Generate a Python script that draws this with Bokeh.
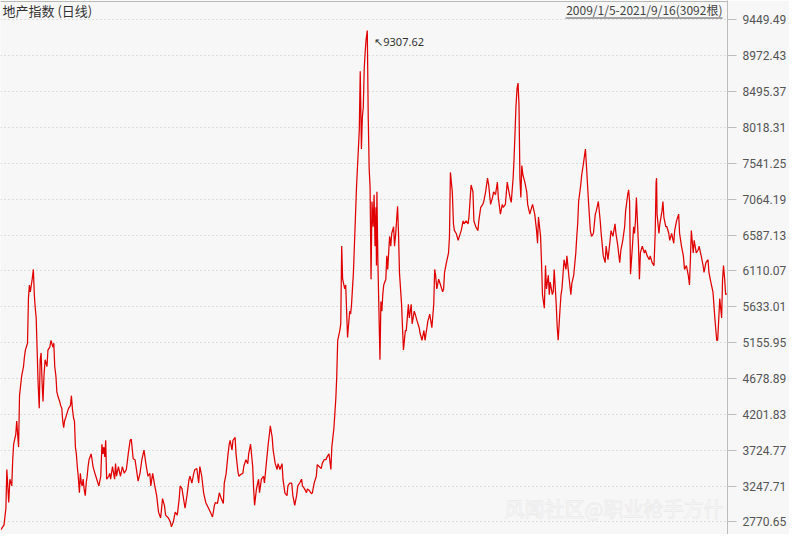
from bokeh.plotting import figure
from bokeh.models import Range1d, FixedTicker, Label, Span
from bokeh.embed import file_html
from bokeh.resources import INLINE

title_text = "地产指数 (日线)"
range_text = "2009/1/5-2021/9/16(3092根)"
peak_text = "↖9307.62"
watermark = "风闻社区@职业枪手方什"

peak_day = 1560
peak_value = 9307.62

tick_values = [2770.65, 3247.71, 3724.77, 4201.83, 4678.89, 5155.95, 5633.01,
               6110.07, 6587.13, 7064.19, 7541.25, 8018.31, 8495.37, 8972.43, 9449.49]
tick_labels = ["2770.65", "3247.71", "3724.77", "4201.83", "4678.89", "5155.95", "5633.01",
               "6110.07", "6587.13", "7064.19", "7541.25", "8018.31", "8495.37", "8972.43", "9449.49"]

day = [0, 13, 21, 25, 33, 38, 46, 50, 54, 63, 67, 75, 79, 88, 96, 100, 104, 113, 117, 121,
       125, 133, 138, 142, 146, 150, 154, 158, 163, 167, 171, 175, 179, 183, 188, 196, 200, 208,
       213, 221, 225, 229, 234, 238, 242, 250, 254, 259, 263, 267, 271, 279, 284, 288, 296, 300,
       304, 309, 313, 317, 321, 325, 329, 334, 338, 342, 346, 350, 354, 359, 363, 367, 371, 375,
       384, 388, 392, 400, 404, 413, 417, 425, 430, 434, 438, 442, 446, 450, 459, 463, 467, 475,
       484, 488, 492, 500, 509, 517, 525, 534, 542,
       550, 555, 563, 571, 584, 592, 600, 609, 617, 626, 634, 638, 646, 655, 663, 671, 680, 688,
       696, 701, 713, 721, 726, 734, 742, 751, 759, 763, 771, 780, 784, 792, 801, 805, 813, 821,
       826, 834, 842, 847, 855, 863, 872, 884, 892, 901, 909, 913, 922, 930, 938, 947, 951, 959,
       967, 972, 976, 984, 988, 997, 1001, 1009, 1013, 1022, 1030, 1034, 1043, 1051, 1055, 1063,
       1072, 1076, 1080, 1088, 1097, 1101, 1109, 1118, 1122, 1130, 1138, 1143, 1147, 1155, 1159,
       1168, 1176, 1180, 1188, 1197, 1201, 1209, 1218, 1222, 1230, 1238, 1243, 1251, 1259, 1264,
       1272, 1280, 1284, 1293, 1301, 1305, 1314, 1322, 1326, 1334, 1343, 1347, 1355, 1364, 1368,
       1376, 1384, 1389, 1397, 1405, 1409, 1418,
       1426, 1430, 1434, 1443, 1447, 1451, 1455, 1464, 1468, 1472, 1476, 1485, 1489, 1493, 1501,
       1510, 1514, 1522, 1526, 1530, 1535, 1539, 1543, 1547, 1551, 1555, 1560, 1564, 1568, 1572,
       1576, 1580, 1585, 1589, 1593, 1597, 1599, 1601, 1605, 1614, 1618, 1622, 1626, 1630, 1639,
       1643, 1647, 1655, 1660, 1664, 1672, 1676, 1681, 1689, 1693, 1697, 1706, 1710, 1714, 1722,
       1726, 1735, 1739, 1747, 1751, 1760, 1764, 1772, 1781, 1785, 1793, 1801, 1806, 1810, 1814,
       1818, 1822, 1826, 1835, 1843, 1847, 1851, 1856, 1864, 1872, 1881, 1885, 1889, 1897, 1906,
       1910, 1914, 1922, 1927, 1931, 1939, 1947, 1952, 1960, 1968, 1972, 1981, 1989, 1993, 2002,
       2010, 2014, 2022, 2031, 2035, 2043, 2052, 2056, 2064, 2072, 2077, 2085, 2093, 2098, 2106,
       2114, 2118, 2127, 2135, 2139, 2148, 2156, 2160, 2168, 2173, 2181, 2185, 2189, 2193, 2198,
       2202, 2206, 2210, 2214, 2218, 2223, 2231, 2239, 2243, 2252, 2260, 2264, 2273, 2281, 2285,
       2289, 2298, 2302, 2306, 2314, 2319, 2323, 2331, 2335, 2339, 2348, 2352, 2356, 2364, 2369,
       2373, 2381, 2385, 2389, 2398, 2406, 2410, 2419, 2427, 2431, 2439, 2448, 2452, 2456, 2460,
       2469, 2473, 2481, 2489, 2494, 2502, 2510, 2515, 2523, 2531, 2535, 2544, 2552, 2556, 2565,
       2573, 2577, 2585, 2594, 2598, 2606, 2615, 2619, 2627, 2635, 2640, 2648, 2656, 2660, 2669,
       2673, 2677, 2681, 2690, 2694, 2698, 2702, 2706, 2715, 2719, 2723, 2731, 2740, 2744, 2752,
       2761, 2765, 2773, 2781, 2786, 2790, 2792, 2794, 2802, 2806, 2815, 2819, 2823, 2831, 2836,
       2844, 2848, 2856, 2865, 2869, 2877, 2886, 2890, 2898, 2906, 2911, 2919, 2927, 2932, 2936,
       2940, 2948, 2952, 2961, 2969, 2973, 2982, 2990, 2994, 3002, 3011, 3015, 3023, 3032, 3036,
       3040, 3048, 3052, 3057, 3061, 3065, 3069, 3073, 3077, 3082, 3086, 3091]

close = [2668, 2732, 2952, 3468, 3029, 3339, 3249, 3598, 3804, 3934, 4114, 3766, 4450, 4709, 4838,
         4967, 5057, 5148, 5742, 5923, 5832, 6000, 6130, 5794, 5613, 5484, 5057, 4631, 4282, 4928,
         5019, 4631, 4373, 4709, 4928, 4838, 5057, 5096, 5187, 5096, 5148, 4838, 4709, 4502, 4450,
         4373, 4321, 4282, 4114, 4024, 4114, 4192, 4244, 4282, 4321, 4450, 4282, 4153, 4114, 3766,
         3675, 3507, 3378, 3158, 3417, 3288, 3249, 3339, 3210, 3120, 3288, 3378, 3507, 3598, 3675,
         3598, 3507, 3417, 3378, 3288, 3249, 3378, 3804, 3675, 3766, 3636, 3856, 3339, 3378, 3417,
         3339, 3507, 3339, 3546, 3378, 3507, 3378, 3507, 3417, 3468, 3675,
         3856, 3869, 3611, 3598, 3313, 3417, 3598, 3727, 3546, 3378, 3417, 3249, 3417, 3249, 3120,
         2900, 2823, 3081, 2991, 2861, 2823, 2771, 2706, 2771, 2900, 2861, 3081, 3249, 3210, 3029,
         2952, 3120, 3339, 3378, 3288, 3417, 3468, 3481, 3288, 3507, 3378, 3158, 3029, 2952, 2900,
         2836, 2991, 3029, 3016, 3158, 3081, 3016, 3288, 3417, 3675, 3804, 3856, 3727, 3856, 3895,
         3675, 3443, 3378, 3404, 3417, 3507, 3598, 3546, 3675, 3804, 3507, 3210, 2991, 3210, 3339,
         3158, 3339, 3378, 3288, 3546, 3804, 3934, 4050, 3895, 3727, 3546, 3468, 3546, 3468, 3546,
         3339, 3158, 3120, 3249, 3288, 3288, 3120, 2991, 3120, 3249, 3288, 3339, 3249, 3210, 3158,
         3210, 3184, 3145, 3158, 3290, 3378, 3533, 3507, 3481, 3546, 3598, 3598, 3636, 3675, 3468,
         3766, 4024,
         4412, 4709, 5187, 5316, 5406, 6440, 6000, 5871, 5923, 5574, 5225, 5574, 5535, 5665, 6091,
         6866, 7215, 7731, 7990, 8765, 7731, 8158, 8287, 8804, 9023, 9191, 9308, 8158, 7473, 7215,
         6000, 7034, 6698, 7124, 6440, 6956, 6181, 7163, 6259, 4928, 5703, 5574, 5794, 5923, 6000,
         6310, 6130, 6569, 6440, 6608, 6698, 6440, 6608, 6969, 6608, 6091, 5665, 5354, 5057, 5316,
         5316, 5665, 5484, 5665, 5406, 5574, 5535, 5445, 5354, 5277, 5187, 5316, 5187, 5277, 5354,
         5445, 5484, 5535, 5354, 5665, 6130, 6052, 5871, 6000, 5923, 5832, 5871, 6091, 6220, 6349,
         6569, 7421, 7163, 6737, 6646, 6608, 6517, 6569, 6646, 6775, 6737, 6775, 6737, 6827, 7253,
         7163, 6775, 6698, 6646, 6775, 6956, 6995, 7034, 7163, 7344, 7253, 6995, 7086, 7163, 7124,
         7292, 7086, 6866, 6995, 6956, 6995, 7292, 7215, 7086, 7021, 7344, 7602, 7938, 8287, 8545,
         8610, 8326, 7344, 7086, 7512, 7383, 7292, 7163, 6995, 6866, 6956, 6995, 6866, 6646, 6478,
         6827, 6569, 6220, 5794, 5613, 6181, 5871, 6052, 5794, 5962, 5794, 5832, 6130, 5703, 5354,
         5187, 5613, 5794, 5871, 6259, 6130, 6310, 6026, 5794, 5940, 6052, 6350, 6560, 6737, 7034,
         7253, 7383, 7551, 7731, 7473, 7034, 6646, 6569, 6608, 6866, 6905, 7034, 6775, 6608, 6310,
         6220, 6440, 6259, 6517, 6646, 6569, 6737, 6608, 6440, 6220, 6388, 6517, 6698, 6905, 7124,
         7189, 7034, 6065, 6478, 6698, 6608, 6775, 7086, 6440, 6000, 6349, 6440, 6349, 6388, 6310,
         6259, 6310, 6220, 6181, 6608, 7292, 7344, 6866, 6608, 6737, 6905, 7034, 6827, 6698, 6698,
         6608, 6517, 6608, 6478, 6646, 6775, 6866, 6608, 6440, 6310, 6130, 6181, 6052, 5923, 6259,
         6646, 6349, 6517, 6349, 6388, 6440, 6310, 6181, 6091, 6220, 6259, 6091, 5962, 5832, 5665,
         5484, 5187, 5187, 5484, 5742, 5613, 5484, 6000, 6181, 6000, 5794, 5810]

BG = "#f7f7f8"
Y0, Y1 = 2603, 9708
X0, X1 = -2, 3094
PX_Y = (Y1 - Y0) / 534.0
PX_X = (X1 - X0) / 727.0

p = figure(width=789, height=534, output_backend="svg", toolbar_location=None,
           x_range=Range1d(X0, X1), y_range=Range1d(Y0, Y1),
           x_axis_type=None, y_axis_location="right",
           min_border_left=0, min_border_right=0, min_border_top=0, min_border_bottom=0)
p.background_fill_color = BG
p.border_fill_color = BG
p.outline_line_color = None
p.xgrid.visible = False

yaxis = p.yaxis[0]
yaxis.ticker = FixedTicker(ticks=tick_values)
yaxis.major_label_overrides = {v: s for v, s in zip(tick_values, tick_labels)}
yaxis.axis_line_color = "#bcbcbc"
yaxis.major_tick_line_color = "#bcbcbc"
yaxis.major_tick_out = 9
yaxis.major_tick_in = 0
yaxis.minor_tick_line_color = None
yaxis.major_label_standoff = 6
yaxis.major_label_text_font = "Roboto"
yaxis.major_label_text_font_size = "12px"
yaxis.major_label_text_color = "#555555"

p.ygrid.ticker = FixedTicker(ticks=tick_values)
p.ygrid.grid_line_color = "#c2c2c2"
p.ygrid.grid_line_dash = "1 3"
p.ygrid.grid_line_width = 1

p.add_layout(Span(location=Y1 - 1.0 * PX_Y, dimension="width", line_color="#b8b8b8", line_width=1))

p.line(day, close, line_color="#e00000", line_width=1.25)

p.add_layout(Label(x=X0 + 2 * PX_X, y=Y1 - 0.5 * PX_Y, text=title_text,
                   text_font="Noto Sans CJK SC", text_font_size="13px", text_color="#333333",
                   text_baseline="top", text_align="left"))
p.add_layout(Label(x=X1 - 5 * PX_X, y=Y1 - 0.5 * PX_Y, text=range_text,
                   text_font="Noto Sans CJK SC", text_font_size="12px", text_color="#444444",
                   text_baseline="top", text_align="right"))
p.segment(x0=[X1 - 162 * PX_X], x1=[X1 - 5 * PX_X], y0=[Y1 - 17.5 * PX_Y], y1=[Y1 - 17.5 * PX_Y],
          line_color="#555555", line_width=1)
p.add_layout(Label(x=peak_day + 7 * PX_X, y=peak_value - 11 * PX_Y, text=peak_text,
                   text_font="Noto Sans", text_font_size="11px", text_color="#333333",
                   text_baseline="middle", text_align="left"))
p.add_layout(Label(x=X1 - 4 * PX_X, y=Y0 + 26 * PX_Y, text=watermark,
                   text_font="Noto Sans CJK SC", text_font_size="20px", text_color="#ffffff",
                   text_alpha=0.95, text_baseline="middle", text_align="right",
                   text_outline_color="#ececec"))

open("out.html", "w").write(file_html(p, INLINE))
